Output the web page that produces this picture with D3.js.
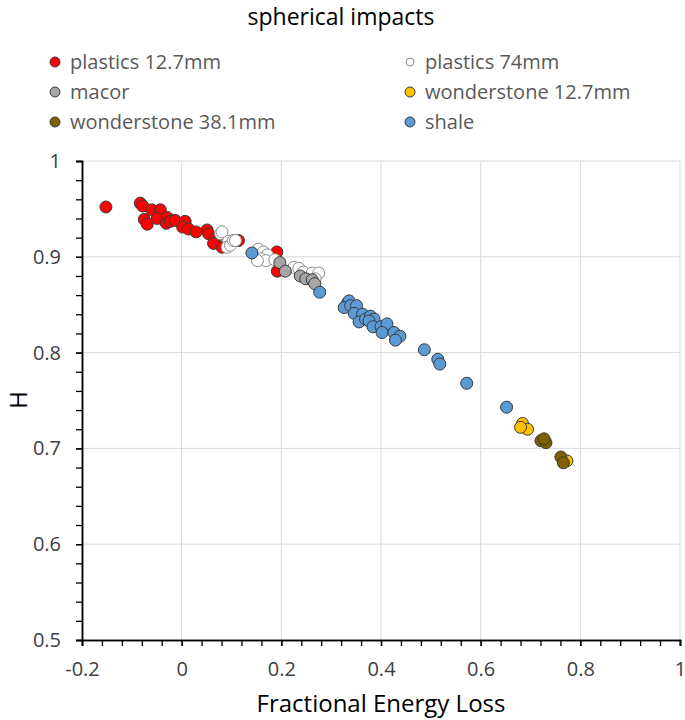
<!DOCTYPE html>
<html>
<head>
<meta charset="utf-8">
<script src="https://cdn.jsdelivr.net/npm/d3@7"></script>
<style>
  body { margin: 0; background: #fff; }
  svg { display: block; font-family: "Open Sans", sans-serif; }
</style>
</head>
<body>
<svg id="chart" width="685" height="720"></svg>
<script>
// ---- data ----
const seriesNames = ["plastics 12.7mm", "plastics 74mm", "macor", "wonderstone 12.7mm", "wonderstone 38.1mm", "shale"];

const plastics127X = [-0.152,-0.083,-0.078,-0.060,-0.043,-0.075,-0.069,-0.049,-0.029,-0.031,-0.023,-0.013,0.007,0.002,0.014,0.029,0.051,0.054,0.067,0.064,0.081,0.114,0.191,0.192];
const plastics127Y = [0.952,0.956,0.953,0.949,0.949,0.939,0.934,0.940,0.941,0.935,0.937,0.938,0.937,0.931,0.929,0.926,0.928,0.924,0.918,0.914,0.910,0.917,0.905,0.885];

const plastics74X = [0.078,0.081,0.094,0.091,0.098,0.104,0.108,0.154,0.164,0.172,0.159,0.169,0.152,0.187,0.225,0.235,0.244,0.262,0.275,0.268];
const plastics74Y = [0.924,0.926,0.916,0.910,0.912,0.917,0.917,0.908,0.905,0.902,0.898,0.896,0.896,0.897,0.889,0.888,0.884,0.883,0.883,0.877];

const macorX = [0.197,0.208,0.238,0.249,0.262,0.267];
const macorY = [0.894,0.885,0.880,0.877,0.876,0.872];

const wonder127X = [0.684,0.694,0.680,0.773];
const wonder127Y = [0.726,0.720,0.722,0.687];

const wonder381X = [0.721,0.731,0.727,0.761,0.766];
const wonder381Y = [0.708,0.706,0.710,0.691,0.685];

const shaleX = [0.141,0.277,0.333,0.336,0.326,0.339,0.351,0.346,0.363,0.356,0.369,0.379,0.386,0.376,0.384,0.400,0.412,0.402,0.426,0.438,0.429,0.487,0.514,0.518,0.572,0.652];
const shaleY = [0.904,0.863,0.852,0.854,0.847,0.849,0.849,0.841,0.840,0.832,0.835,0.838,0.835,0.833,0.827,0.827,0.830,0.821,0.821,0.817,0.813,0.803,0.793,0.788,0.768,0.743];

const xTicks = [-0.2, 0, 0.2, 0.4, 0.6, 0.8, 1];
const yTicks = [0.5, 0.6, 0.7, 0.8, 0.9, 1];
const xTickLabels = ["-0.2", "0", "0.2", "0.4", "0.6", "0.8", "1"];
const yTickLabels = ["0.5", "0.6", "0.7", "0.8", "0.9", "1"];

// ---- styles ----
const fills = ["#FF0000", "#FFFFFF", "#A5A5A5", "#FFC000", "#7F6000", "#5B9BD5"];
const strokes = ["#3a3a3a", "#8c8c8c", "#3a3a3a", "#3a3a3a", "#3a3a3a", "#3a3a3a"];

const seriesData = [
  [plastics127X, plastics127Y],
  [plastics74X, plastics74Y],
  [macorX, macorY],
  [wonder127X, wonder127Y],
  [wonder381X, wonder381Y],
  [shaleX, shaleY]
].map(([xs, ys], i) => ({ name: seriesNames[i], fill: fills[i], stroke: strokes[i], pts: xs.map((x, j) => ({ x, y: ys[j] })) }));

const svg = d3.select("#chart");
const mLeft = 82, mRight = 680, mTop = 161, mBottom = 640;

const x = d3.scaleLinear().domain([-0.2, 1]).range([mLeft, mRight]);
const y = d3.scaleLinear().domain([0.5, 1]).range([mBottom, mTop]);

// grid
svg.append("g").selectAll("line").data(xTicks.slice(1)).join("line")
  .attr("x1", d => x(d)).attr("x2", d => x(d)).attr("y1", mTop).attr("y2", mBottom)
  .attr("stroke", "#d9d9d9").attr("stroke-width", 1);
svg.append("g").selectAll("line").data(yTicks.slice(1)).join("line")
  .attr("x1", mLeft).attr("x2", mRight).attr("y1", d => y(d)).attr("y2", d => y(d))
  .attr("stroke", "#d9d9d9").attr("stroke-width", 1);

// minor ticks
const xMinor = d3.range(0, 31).map(i => -0.2 + i * 0.04);
const yMinor = d3.range(0, 26).map(i => 0.5 + i * 0.02);

const xAxisMinor = svg.append("g").attr("transform", `translate(0,${mBottom})`)
  .call(d3.axisBottom(x).tickValues(xMinor).tickSize(6).tickFormat(""));
const yAxisMinor = svg.append("g").attr("transform", `translate(${mLeft},0)`)
  .call(d3.axisLeft(y).tickValues(yMinor).tickSize(6).tickFormat(""));

const xAxis = svg.append("g").attr("transform", `translate(0,${mBottom})`)
  .call(d3.axisBottom(x).tickValues(xTicks).tickSize(6).tickPadding(19).tickFormat((d, i) => xTickLabels[i]));
const yAxis = svg.append("g").attr("transform", `translate(${mLeft},0)`)
  .call(d3.axisLeft(y).tickValues(yTicks).tickSize(6).tickPadding(15).tickFormat((d, i) => yTickLabels[i]));

[xAxisMinor, yAxisMinor, xAxis, yAxis].forEach(g => {
  g.select(".domain").attr("stroke", "#000").attr("stroke-width", 1.5);
  g.selectAll(".tick line").attr("stroke", "#000").attr("stroke-width", 1.3);
  g.selectAll("text").attr("font-family", "Open Sans").attr("font-size", 20).attr("fill", "#404040");
});
xAxis.selectAll(".tick text").attr("dy", "0.55em");

// points
seriesData.forEach(s => {
  svg.append("g").selectAll("circle").data(s.pts).join("circle")
    .attr("cx", d => x(d.x)).attr("cy", d => y(d.y)).attr("r", 6)
    .attr("fill", s.fill).attr("stroke", s.stroke).attr("stroke-width", 1);
});

// title
svg.append("text").attr("x", 341).attr("y", 25).attr("text-anchor", "middle")
  .attr("font-size", 23).attr("fill", "#000").text("spherical impacts");

// legend
const legendPos = [[55, 62], [410, 62], [55, 92], [410, 92], [55, 122], [410, 122]];
seriesData.forEach((s, i) => {
  const [lx, ly] = legendPos[i];
  svg.append("circle").attr("cx", lx).attr("cy", ly).attr("r", i === 1 ? 4 : 5)
    .attr("fill", s.fill).attr("stroke", s.stroke).attr("stroke-width", 1);
  svg.append("text").attr("x", lx + 15).attr("y", ly).attr("dy", "0.35em")
    .attr("font-size", 20).attr("fill", "#595959").text(s.name);
});

// axis titles
svg.append("text").attr("x", 381).attr("y", 712).attr("text-anchor", "middle")
  .attr("font-size", 24).attr("fill", "#000").text("Fractional Energy Loss");
svg.append("text").attr("transform", "translate(27,400) rotate(-90)").attr("text-anchor", "middle")
  .attr("font-size", 24).attr("fill", "#000").text("H");
</script>
</body>
</html>
